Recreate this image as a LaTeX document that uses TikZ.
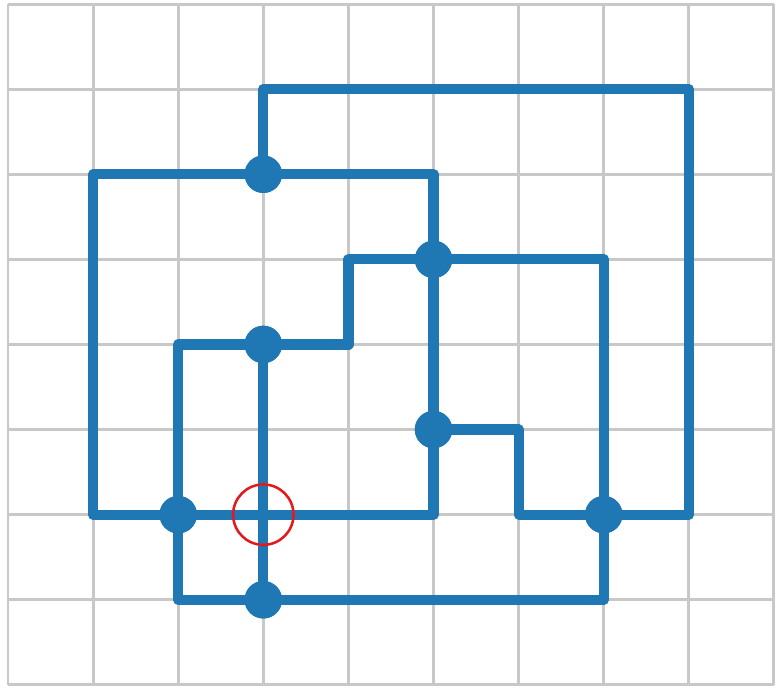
\documentclass[tikz,border=0pt]{standalone}
\usepackage{tikz}
\usetikzlibrary{positioning}
\usepackage{xcolor}
\definecolor{wireblue}{RGB}{31,119,180}
\definecolor{gridgray}{RGB}{200,200,200}
\definecolor{crossred}{RGB}{227,26,28}

\tikzset{
  wire/.style={wireblue,line width=3.4pt,line join=round},
  junction/.style={circle,fill=wireblue,inner sep=0pt,minimum size=0.44cm},
  crossmark/.style={circle,draw=crossred,line width=0.85pt,inner sep=0pt,minimum size=0.71cm}
}

\begin{document}
\begin{tikzpicture}
    \useasboundingbox (-0.094,-0.035) rectangle (9.024,8.047);
    % grid
    \draw[gridgray,line width=1pt] (0,0) grid (9,8);

    % corner points
    \coordinate (tl) at (3,7);
    \coordinate (tr) at (8,7);
    \coordinate (br) at (8,2);
    \coordinate (ll) at (1,6);
    \coordinate (lb) at (1,2);
    \coordinate (rt) at (5,6);
    \coordinate (rb) at (5,2);
    \coordinate (s1) at (2,4);
    \coordinate (s2) at (4,4);
    \coordinate (s3) at (4,5);
    \coordinate (s4) at (7,5);
    \coordinate (s5) at (7,1);
    \coordinate (sb) at (2,1);
    \coordinate (n1) at (6,3);
    \coordinate (n2) at (6,2);

    % junctions
    \node[junction] (ja) at (3,6) {};
    \node[junction] (jb) at (5,5) {};
    \node[junction] (jc) at (3,4) {};
    \node[junction] (jd) at (5,3) {};
    \node[junction] (je) at (2,2) {};
    \node[junction] (jf) at (7,2) {};
    \node[junction] (jg) at (3,1) {};

    % wires
    \draw[wire] (ja.center) -- (tl) -- (tr) -- (br) -- (jf.center);
    \draw[wire] (ll) -- (rt) -- (rb) -- (lb) -- cycle;
    \draw[wire] (je.center) -- (s1) -- (s2) -- (s3) -- (s4) -- (s5) -- (sb) -- (je.center);
    \draw[wire] (jc.center) -- (jg.center);
    \draw[wire] (jd.center) -- (n1) -- (n2) -- (jf.center);

    % redraw junction dots on top
    \foreach \j in {ja,jb,jc,jd,je,jf,jg}
      \fill[wireblue] (\j) circle (0.22cm);

    % crossing without connection
    \node[crossmark] (cx) at (3,2) {};
\end{tikzpicture}
\end{document}
